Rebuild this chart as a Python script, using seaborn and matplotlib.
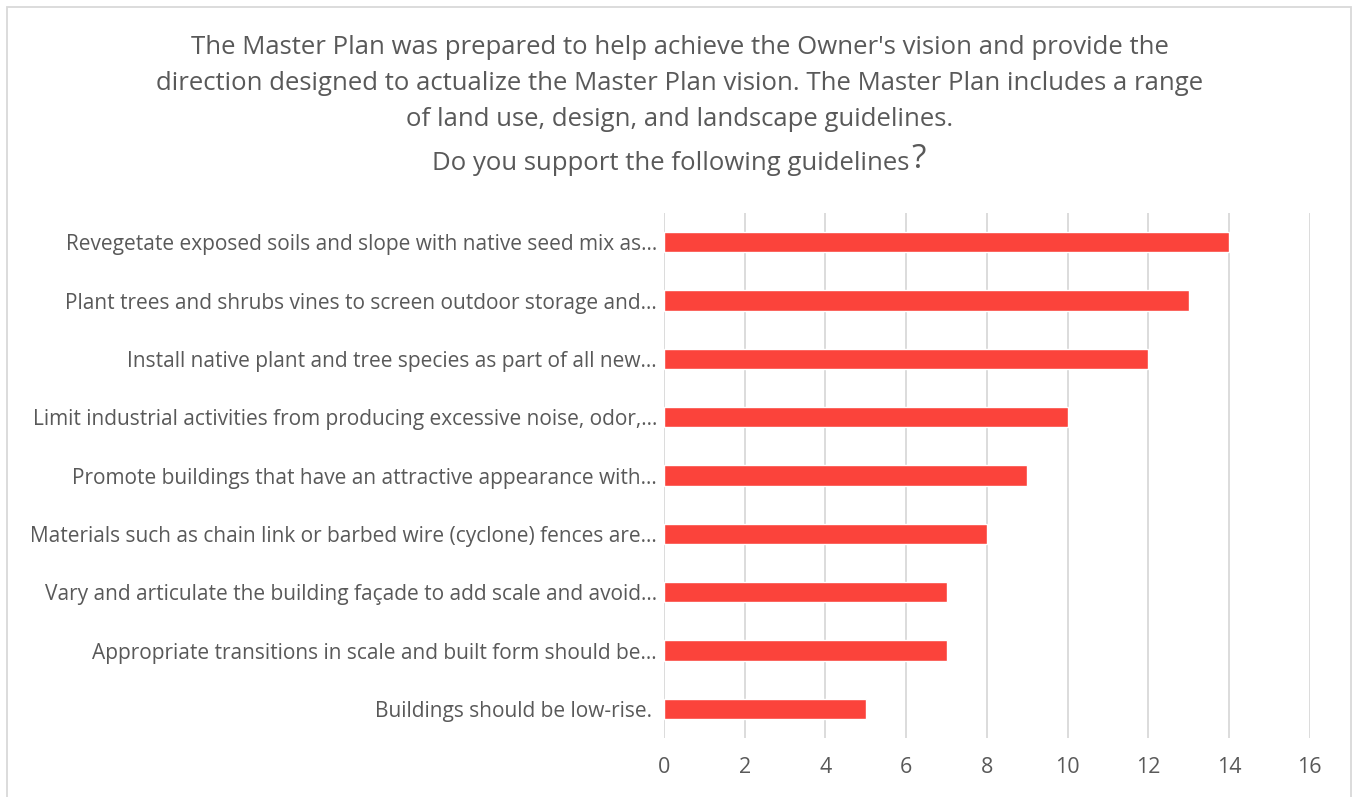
import matplotlib
matplotlib.use("Agg")
import matplotlib.pyplot as plt
import seaborn as sns
import pandas as pd
from matplotlib.patches import Rectangle

guidelines = [
    "Revegetate exposed soils and slope with native seed mix as…",
    "Plant trees and shrubs vines to screen outdoor storage and…",
    "Install native plant and tree species as part of all new…",
    "Limit industrial activities from producing excessive noise, odor,…",
    "Promote buildings that have an attractive appearance with…",
    "Materials such as chain link or barbed wire (cyclone) fences are…",
    "Vary and articulate the building façade to add scale and avoid…",
    "Appropriate transitions in scale and built form should be…",
    "Buildings should be low-rise. ",
]
responses = [14, 13, 12, 10, 9, 8, 7, 7, 5]
x_ticks = [0, 2, 4, 6, 8, 10, 12, 14, 16]

title_lines = [
    "The Master Plan was prepared to help achieve the Owner's vision and provide the",
    "direction designed to actualize the Master Plan vision. The Master Plan includes a range",
    "of land use, design, and landscape guidelines.",
]
question = "Do you support the following guidelines"

sns.set_theme(style="white")
plt.rcParams["font.family"] = ["Open Sans", "DejaVu Sans"]

text_color = "#595959"
bar_color = "#FB433B"
grid_color = "#D9D9D9"

df = pd.DataFrame({"guideline": guidelines, "count": responses})

fig = plt.figure(figsize=(13.53, 7.97), dpi=100)
ax = fig.add_axes([0.4908, 0.074, 0.968 - 0.4908, 0.7327 - 0.074])

sns.barplot(data=df, x="count", y="guideline", orient="h", color=bar_color,
            width=0.35, saturation=1, ax=ax)

ax.set_xlim(0, 16)
ax.set_ylim(len(guidelines) - 0.5, -0.5)
ax.set_xticks(x_ticks)
ax.set_xlabel("")
ax.set_ylabel("")
ax.xaxis.grid(True, color=grid_color, linewidth=1.3)
ax.yaxis.grid(False)
ax.set_axisbelow(True)
for s in ax.spines.values():
    s.set_visible(False)
ax.tick_params(axis="x", length=0, pad=14, labelsize=15.5, labelcolor=text_color)
ax.tick_params(axis="y", length=0, pad=5, labelsize=15.0, labelcolor=text_color)

# chart frame
fig.patches.append(Rectangle((7 / 1353, -0.05), (1351 - 7) / 1353, 1.05 - 7 / 797,
                             transform=fig.transFigure, fill=False,
                             edgecolor="#D9D9D9", linewidth=1.3, zorder=0))

cx = 680 / 1353
for i, line in enumerate(title_lines):
    fig.text(cx, 1 - (48 + 36 * i) / 797, line, ha="center", va="center",
             fontsize=18.5, color=text_color)

q = fig.text(cx - 9 / 1353, 1 - 163 / 797, question, ha="center", va="center",
             fontsize=18.5, color=text_color)
ax.annotate("?", xy=(1, 0), xycoords=q, xytext=(1, 0), textcoords="offset points",
            ha="left", va="bottom", fontsize=24, color=text_color,
            annotation_clip=False)

fig.savefig("out.png", dpi=100, facecolor="white")
